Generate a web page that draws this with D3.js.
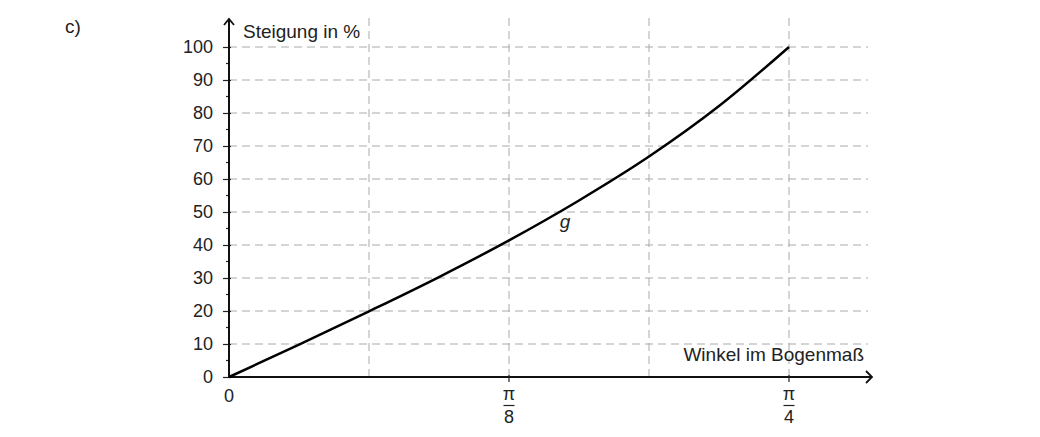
<!DOCTYPE html>
<html><head><meta charset="utf-8">
<script src="https://cdn.jsdelivr.net/npm/d3@7"></script>
<style>
body{margin:0;background:#fff;}
text{font-family:"Liberation Sans",Arial,Helvetica,sans-serif;fill:#222;}
</style></head>
<body><svg id="c" width="1040" height="437"></svg>
<script>
// data: angle (in units of pi/32) and slope in %
const angleSteps = [0,1,2,3,4,5,6,7,8];
const slopeValues = [0,9.8,19.9,30.3,41.4,53.5,66.8,82.1,100];
const yTicks = [0,10,20,30,40,50,60,70,80,90,100];
const xGrid = [0,2,4,6,8]; // pi/32 units (pi/16 steps)
const xTickLabels = [{v:0,num:"0",den:null},{v:4,num:"π",den:"8"},{v:8,num:"π",den:"4"}];

const svg = d3.select("#c");
const x = d3.scaleLinear().domain([0,8]).range([229,789]);
const y = d3.scaleLinear().domain([0,100]).range([377,47]);

// horizontal grid
svg.append("g").selectAll("line").data(yTicks.filter(d=>d>0)).join("line")
  .attr("x1",x(0)).attr("x2",868).attr("y1",d=>y(d)).attr("y2",d=>y(d))
  .attr("stroke","#aaa").attr("stroke-width",1).attr("stroke-dasharray","8,5");
// vertical grid
svg.append("g").selectAll("line").data(xGrid.filter(d=>d>0)).join("line")
  .attr("x1",d=>x(d)).attr("x2",d=>x(d)).attr("y1",18).attr("y2",y(0))
  .attr("stroke","#aaa").attr("stroke-width",1).attr("stroke-dasharray","8,5");

// y axis
const yAxis = d3.axisLeft(y).tickValues(yTicks).tickSize(5).tickPadding(11);
const gy = svg.append("g").attr("transform",`translate(${x(0)},0)`).call(yAxis);
gy.select(".domain").remove();
gy.selectAll(".tick line").attr("stroke","#222").attr("stroke-width",1.2).attr("x2",-6).attr("x1",2);
gy.selectAll(".tick text").attr("font-size",18).attr("fill","#222")
  .style("font-family","'Liberation Sans',Arial,sans-serif");
// minor ticks
svg.append("g").selectAll("line").data(d3.range(5,100,10)).join("line")
  .attr("x1",x(0)-3).attr("x2",x(0)).attr("y1",d=>y(d)).attr("y2",d=>y(d))
  .attr("stroke","#222").attr("stroke-width",1.2);

// axes lines with arrows
svg.append("line").attr("x1",x(0)).attr("x2",x(0)).attr("y1",y(0)).attr("y2",19)
  .attr("stroke","#111").attr("stroke-width",2);
svg.append("path").attr("d",`M${x(0)-5},${25} L${x(0)},${19} L${x(0)+5},${25}`)
  .attr("fill","none").attr("stroke","#111").attr("stroke-width",1.8);
svg.append("line").attr("x1",x(0)).attr("x2",872).attr("y1",y(0)).attr("y2",y(0))
  .attr("stroke","#111").attr("stroke-width",2);
svg.append("path").attr("d",`M866,${y(0)-6} L872,${y(0)} L866,${y(0)+6}`)
  .attr("fill","none").attr("stroke","#111").attr("stroke-width",1.8);

// x ticks and labels
const gx = svg.append("g");
xTickLabels.forEach(t=>{
  const px = x(t.v);
  if(t.v>0) gx.append("line").attr("x1",px).attr("x2",px).attr("y1",y(0)-2).attr("y2",y(0)+5)
    .attr("stroke","#222").attr("stroke-width",1.2);
  if(t.den===null){
    gx.append("text").attr("x",px).attr("y",402).attr("text-anchor","middle").attr("font-size",18).text(t.num);
  } else {
    gx.append("text").attr("x",px).attr("y",400).attr("text-anchor","middle").attr("font-size",18).text(t.num);
    gx.append("line").attr("x1",px-5.5).attr("x2",px+5.5).attr("y1",405.5).attr("y2",405.5).attr("stroke","#222").attr("stroke-width",1.2);
    gx.append("text").attr("x",px).attr("y",423).attr("text-anchor","middle").attr("font-size",18).text(t.den);
  }
});

// curve
const line = d3.line().x((d,i)=>x(angleSteps[i])).y(d=>y(d)).curve(d3.curveMonotoneX);
svg.append("path").datum(slopeValues).attr("d",line)
  .attr("fill","none").attr("stroke","#000").attr("stroke-width",2.5);

// labels
svg.append("text").attr("x",65).attr("y",33).attr("font-size",19).text("c)");
svg.append("text").attr("x",243).attr("y",38).attr("font-size",19).text("Steigung in %");
svg.append("text").attr("x",864).attr("y",361).attr("text-anchor","end").attr("font-size",19).text("Winkel im Bogenmaß");
svg.append("text").attr("x",565).attr("y",228).attr("text-anchor","middle").attr("font-size",19).attr("font-style","italic").text("g");
</script></body></html>
